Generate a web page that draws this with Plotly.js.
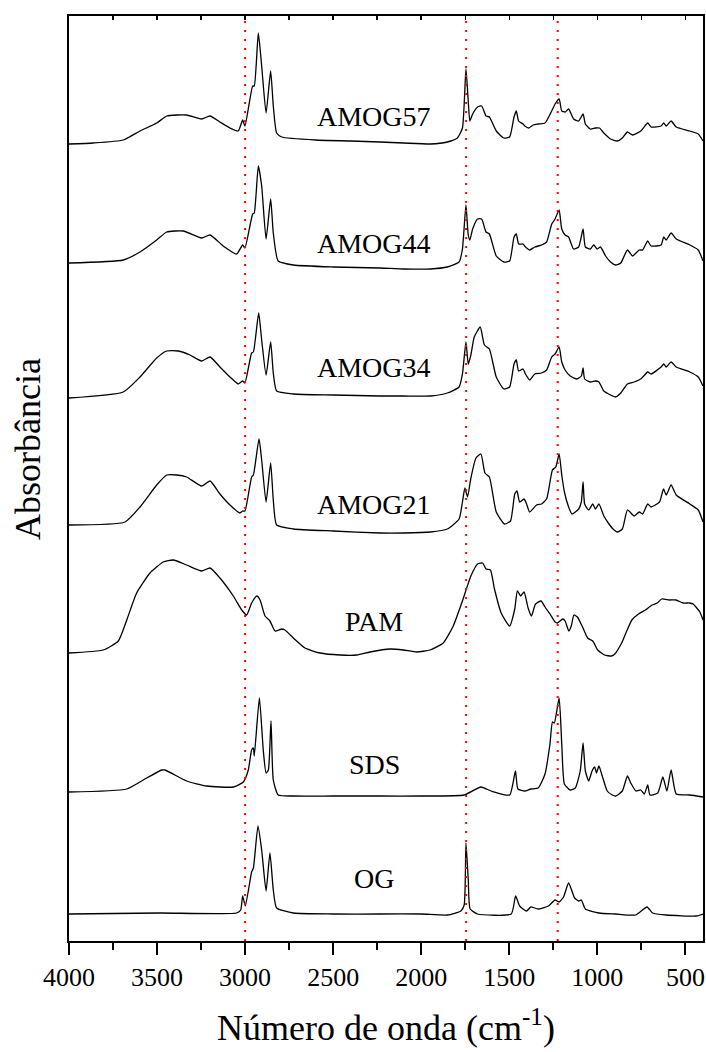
<!DOCTYPE html>
<html><head><meta charset="utf-8">
<script src="https://cdn.plot.ly/plotly-3.0.1.min.js"></script>
<style>html,body{margin:0;padding:0;background:#fff}</style>
</head><body><div id="chart" style="width:706px;height:1052px"></div>
<script>
const sampleNames = ['AMOG57','AMOG44','AMOG34','AMOG21','PAM','SDS','OG'];
const offsets = [7.97, 6.78, 5.43, 4.16, 2.88, 1.49, 0.27];

const wnAMOG57 = [4000,3862,3692,3597,3502,3445,3389,3332,3247,3199,3143,3086,3039,3014,3001,2957,2948,2925,2906,2881,2855,2840,2821,2792,2600,2400,2234,2100,1947,1852,1795,1766,1746,1733,1724,1708,1680,1657,1632,1613,1574,1531,1498,1473,1460,1447,1422,1412,1389,1364,1336,1297,1259,1240,1217,1202,1183,1163,1135,1106,1081,1068,1040,1011,988,963,925,886,858,829,800,753,714,695,638,623,609,581,552,475,427,400];
const absAMOG57 = [0,0.01,0.04,0.13,0.21,0.28,0.29,0.29,0.25,0.28,0.22,0.16,0.13,0.24,0.18,0.58,0.58,1.11,0.78,0.31,0.73,0.38,0.11,0.07,0.04,0.03,0.02,0.01,0.00,0.02,0.06,0.16,0.75,0.43,0.23,0.30,0.37,0.38,0.28,0.27,0.13,0.06,0.07,0.27,0.33,0.23,0.20,0.18,0.16,0.19,0.20,0.21,0.33,0.40,0.45,0.33,0.32,0.35,0.25,0.23,0.30,0.20,0.15,0.16,0.16,0.11,0.05,0.03,0.06,0.12,0.09,0.13,0.21,0.17,0.18,0.21,0.18,0.23,0.17,0.13,0.10,0.03];

const wnAMOG44 = [4000,3692,3597,3502,3445,3351,3247,3199,3124,3048,3014,3001,2957,2948,2925,2906,2881,2855,2840,2812,2726,2500,2234,2100,1947,1852,1785,1766,1746,1733,1724,1708,1680,1657,1632,1613,1574,1531,1498,1473,1460,1447,1422,1408,1384,1355,1317,1288,1259,1240,1217,1202,1183,1163,1135,1106,1081,1068,1040,1020,1001,982,953,925,896,867,829,800,762,743,714,695,638,623,609,581,552,475,427,400];
const absAMOG44 = [0,0.03,0.11,0.23,0.31,0.32,0.25,0.28,0.17,0.09,0.18,0.15,0.49,0.50,0.97,0.77,0.24,0.64,0.30,0.02,-0.02,-0.04,-0.05,-0.06,-0.06,-0.04,0.01,0.14,0.58,0.28,0.23,0.34,0.44,0.44,0.31,0.29,0.07,0.01,0.02,0.26,0.29,0.19,0.19,0.16,0.13,0.16,0.18,0.21,0.39,0.44,0.53,0.34,0.28,0.26,0.14,0.16,0.34,0.16,0.14,0.18,0.14,0.16,0.07,0.01,-0.02,0,0.13,0.07,0.13,0.13,0.22,0.17,0.18,0.26,0.23,0.30,0.24,0.18,0.13,0.02];

const wnAMOG34 = [4000,3692,3597,3502,3445,3379,3313,3247,3199,3143,3086,3039,3014,3001,2963,2953,2923,2906,2881,2855,2840,2821,2726,2500,2234,2100,1947,1852,1785,1766,1746,1733,1718,1699,1665,1641,1613,1574,1531,1498,1473,1460,1447,1422,1408,1384,1355,1317,1288,1259,1240,1217,1202,1183,1154,1116,1091,1081,1072,1040,1011,991,963,925,896,867,829,791,753,714,695,638,623,609,581,552,475,427,400];
const absAMOG34 = [0,0.06,0.21,0.40,0.47,0.47,0.43,0.37,0.41,0.31,0.21,0.14,0.17,0.15,0.45,0.46,0.85,0.58,0.23,0.56,0.25,0.07,0.04,0.03,0.02,0.02,0.02,0.05,0.11,0.24,0.56,0.34,0.43,0.61,0.71,0.53,0.49,0.21,0.09,0.11,0.34,0.38,0.27,0.29,0.24,0.18,0.24,0.25,0.28,0.41,0.44,0.51,0.36,0.28,0.22,0.19,0.22,0.30,0.19,0.16,0.17,0.16,0.07,0.03,0.01,0.05,0.14,0.16,0.19,0.26,0.24,0.31,0.34,0.31,0.36,0.31,0.26,0.21,0.12];

const wnAMOG21 = [4000,3682,3597,3502,3445,3389,3332,3247,3199,3143,3086,3029,3014,3001,2963,2953,2921,2906,2881,2855,2840,2821,2726,2500,2234,2100,1947,1852,1785,1766,1752,1737,1718,1689,1661,1638,1613,1574,1527,1493,1469,1456,1441,1416,1402,1384,1345,1317,1288,1255,1236,1217,1202,1187,1163,1144,1106,1091,1081,1072,1049,1026,1011,991,963,934,911,886,858,829,791,762,743,714,695,647,624,609,581,552,475,427,400];
const absAMOG21 = [0,0.03,0.18,0.40,0.50,0.50,0.48,0.39,0.44,0.31,0.20,0.12,0.14,0.14,0.48,0.50,0.86,0.65,0.23,0.62,0.25,0,-0.04,-0.06,-0.08,-0.08,-0.07,-0.04,0.06,0.23,0.37,0.28,0.47,0.67,0.71,0.52,0.48,0.13,0.01,0.04,0.31,0.34,0.23,0.26,0.21,0.13,0.20,0.21,0.26,0.55,0.58,0.71,0.50,0.33,0.18,0.11,0.16,0.23,0.43,0.21,0.15,0.21,0.16,0.21,0.09,0.01,-0.04,-0.07,-0.04,0.15,0.09,0.13,0.11,0.21,0.18,0.23,0.36,0.30,0.40,0.30,0.21,0.15,0.03];

const wnPAM = [4000,3805,3720,3672,3616,3540,3465,3408,3332,3247,3199,3143,3067,3019,2991,2963,2934,2915,2887,2859,2830,2792,2774,2726,2660,2575,2461,2366,2291,2177,2102,2026,1950,1875,1818,1770,1718,1680,1651,1632,1607,1584,1546,1498,1469,1454,1435,1416,1393,1374,1351,1320,1297,1269,1240,1227,1196,1183,1162,1148,1133,1113,1084,1055,1026,998,959,920,901,862,833,804,766,727,689,660,634,591,553,514,476,456,418,400];
const absPAM = [0,0.03,0.12,0.33,0.60,0.80,0.91,0.93,0.88,0.82,0.85,0.75,0.57,0.43,0.38,0.50,0.57,0.53,0.37,0.32,0.22,0.24,0.23,0.15,0.05,0,-0.02,-0.02,0.01,0.04,0.03,0.01,0.03,0.10,0.27,0.50,0.77,0.89,0.90,0.84,0.83,0.64,0.40,0.27,0.44,0.62,0.57,0.61,0.45,0.37,0.49,0.52,0.46,0.39,0.31,0.30,0.34,0.32,0.22,0.27,0.38,0.36,0.26,0.15,0.12,0.03,-0.02,-0.03,-0.01,0.10,0.22,0.33,0.39,0.43,0.48,0.50,0.54,0.53,0.53,0.50,0.50,0.49,0.41,0.33];

const wnSDS = [4000,3672,3559,3474,3455,3332,3218,3067,3010,2982,2963,2953,2948,2919,2897,2881,2868,2853,2840,2812,2726,2500,2234,2000,1756,1661,1603,1498,1465,1451,1412,1378,1336,1297,1269,1255,1244,1217,1202,1187,1154,1125,1097,1081,1068,1049,1030,1015,1005,991,972,944,915,896,858,829,810,781,753,733,714,701,657,628,605,581,552,475,400];
const absSDS = [0,0.03,0.14,0.22,0.22,0.11,0.06,0.05,0.10,0.22,0.42,0.44,0.36,0.94,0.42,0.19,0.22,0.71,0.12,-0.03,-0.04,-0.04,-0.04,-0.04,-0.03,0.05,0.01,-0.03,0.21,0.03,0.01,0.03,0.04,0.18,0.48,0.70,0.69,0.94,0.48,0.08,0.02,0.04,0.21,0.49,0.21,0.11,0.21,0.25,0.19,0.26,0.16,0.01,-0.03,-0.04,0.01,0.16,0.09,0.01,0.02,-0.02,0.07,-0.03,-0.01,0.15,0.01,0.22,-0.02,-0.03,-0.05];

const wnOG = [4000,3483,3048,3025,3014,2999,2963,2953,2927,2906,2881,2859,2840,2821,2726,2500,2234,2000,1852,1775,1756,1746,1733,1722,1680,1489,1464,1441,1402,1378,1336,1278,1240,1217,1192,1163,1129,1106,1091,1068,991,896,781,718,686,609,437,400];
const absOG = [0,0.01,0.01,0.04,0.18,0.08,0.42,0.46,0.88,0.64,0.23,0.61,0.24,0.06,0.01,0,0,0,-0.01,0.03,0.09,0.71,0.35,0.05,0,0,0.18,0.08,0.03,0.07,0.05,0.08,0.14,0.12,0.17,0.31,0.16,0.13,0.14,0.05,0.01,0,-0.01,0.07,0.01,-0.01,-0.02,0];

const markerWavenumbers = [3000, 1745, 1225];

const spectra = [
  [wnAMOG57, absAMOG57], [wnAMOG44, absAMOG44], [wnAMOG34, absAMOG34],
  [wnAMOG21, absAMOG21], [wnPAM, absPAM], [wnSDS, absSDS], [wnOG, absOG]
];

const SERIF = 'Liberation Serif, Times New Roman, serif';
const Y_MAX = 9.25;
const traces = [];
markerWavenumbers.forEach(w => traces.push({
  type:'scatter', mode:'lines', x:[w,w], y:[0,Y_MAX], xaxis:'x2', yaxis:'y',
  line:{color:'#ff0000', width:2, dash:'2px,7px'}, hoverinfo:'skip', showlegend:false
}));
spectra.forEach((s,i) => traces.push({
  type:'scatter', mode:'lines', name:sampleNames[i],
  x:s[0], y:s[1].map(v => v + offsets[i]),
  line:{color:'#000', width:1.3, shape:'spline', smoothing:0.5},
  hoverinfo:'skip', showlegend:false
}));

const labelX = 2268;
const labelY = [8.25, 6.98, 5.74, 4.37, 3.195, 1.77, 0.63];
const annotations = sampleNames.map((n,i) => ({
  x: labelX, y: labelY[i], xref:'x', yref:'y', text:n, showarrow:false,
  xanchor:'center', yanchor:'middle', font:{family:SERIF, size:28, color:'#000'}
}));
annotations.push({
  xref:'paper', yref:'paper', x:(28-69)/634, y:(941-449)/925, text:'Absorbância',
  textangle:-90, showarrow:false, xanchor:'center', yanchor:'middle', font:{family:SERIF, size:36, color:'#000'}
});
annotations.push({
  xref:'paper', yref:'paper', x:0.5, y:(941-1025)/925, text:'Número de onda (cm<sup>-1</sup>)',
  showarrow:false, xanchor:'center', yanchor:'middle', font:{family:SERIF, size:36, color:'#000'}
});

const layout = {
  width:706, height:1052,
  margin:{l:69, r:3, t:16, b:111},
  paper_bgcolor:'#fff', plot_bgcolor:'#fff', showlegend:false,
  font:{family:SERIF, color:'#000'},
  xaxis:{
    range:[4000,400], autorange:false, tickmode:'linear', tick0:0, dtick:500,
    ticks:'outside', ticklen:12, tickwidth:2, tickcolor:'#000',
    showline:true, linewidth:2, linecolor:'#000', mirror:true,
    showgrid:false, zeroline:false, tickfont:{family:SERIF, size:26, color:'#000'},
    minor:{tick0:0, dtick:250, ticks:'outside', ticklen:7, tickwidth:2, tickcolor:'#000', showgrid:false}
  },
  xaxis2:{
    overlaying:'x', side:'top', anchor:'y', range:[4000,400], autorange:false,
    tickmode:'linear', tick0:0, dtick:250, ticks:'inside', ticklen:4, tickwidth:1.5, tickcolor:'#000',
    showticklabels:false, showgrid:false, zeroline:false, showline:false
  },
  yaxis:{
    range:[0,Y_MAX], autorange:false, showticklabels:false, ticks:'',
    showline:true, linewidth:2, linecolor:'#000', mirror:true, showgrid:false, zeroline:false
  },
  annotations
};

Plotly.newPlot('chart', traces, layout, {staticPlot:true, displayModeBar:false});
</script>
</body></html>
